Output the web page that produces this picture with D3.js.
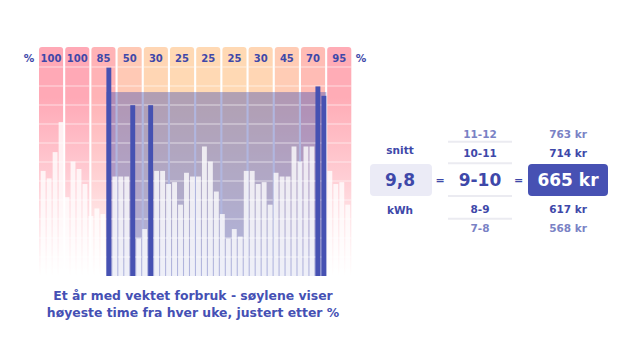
<!DOCTYPE html>
<html><head><meta charset="utf-8">
<script src="https://cdn.jsdelivr.net/npm/d3@7"></script>
<style>
html,body{margin:0;padding:0;background:#fff;}
svg{display:block;}
text{font-family:"DejaVu Sans",sans-serif;font-weight:bold;}
</style></head>
<body>
<svg id="chart" width="640" height="360"></svg>
<script>
// ---- data ----
const months = ["jan","feb","mar","apr","mai","jun","jul","aug","sep","okt","nov","des"];
const monthPct = [100,100,85,50,30,25,25,25,30,45,70,95];
const weeks = d3.range(1, 53);
const weeklyKwh = [5.6,5.2,6.6,8.2,4.2,6.1,5.7,4.9,3.2,3.6,3.3,11.1,5.3,5.3,5.3,9.1,2.0,2.5,9.1,5.6,
  5.6,4.9,5.0,3.8,5.5,5.3,5.3,6.9,6.1,4.5,3.3,2.0,2.5,2.1,5.6,5.6,4.9,5.0,3.8,5.5,
  5.3,5.3,6.9,6.1,6.9,6.9,10.1,9.6,5.6,4.9,5.0,3.8];
const topWeeks = [12,16,19,47,48];
const avgKwh = 9.8;
const avgLabel = "9,8";
const hourLabels = ["11-12","10-11","9-10","8-9","7-8"];
const prices = [763,714,665,617,568];
const titleLines = ["Et år med vektet forbruk - søylene viser","høyeste time fra hver uke, justert etter %"];

// ---- chart ----
const svg = d3.select("#chart");
const dark = "#3e48a9", light = "#7a82c5", blue = "#4651b2";

const y = d3.scaleLinear().domain([0, 12.2]).range([276, 47]);
const xm = d3.scaleBand().domain(months).range([39, 351.3]).paddingInner(0.08).paddingOuter(0);
const xw = d3.scaleBand().domain(weeks).range([40.7, 350.2]).paddingInner(0.18).paddingOuter(0);
const pctColor = d3.scaleLinear().domain([25, 100]).range(["#ffd9b4", "#ffa9b6"]);
const grid = d3.scaleLinear().domain([0, 11]).range([276, 67]);

const defs = svg.append("defs");
months.forEach((m, i) => {
  const c = pctColor(monthPct[i]);
  const g = defs.append("linearGradient").attr("id", "g" + i)
    .attr("gradientUnits", "userSpaceOnUse").attr("x1", 0).attr("x2", 0)
    .attr("y1", y(12.2)).attr("y2", y(0));
  g.append("stop").attr("offset", 0).attr("stop-color", c);
  g.append("stop").attr("offset", 0.22).attr("stop-color", c);
  g.append("stop").attr("offset", 0.6).attr("stop-color", d3.interpolateRgb(c, "#fff")(0.45));
  g.append("stop").attr("offset", 1).attr("stop-color", "#ffffff");
});

// month columns
svg.append("g").selectAll("rect").data(months).join("rect")
  .attr("x", d => xm(d)).attr("width", xm.bandwidth())
  .attr("y", y(12.2)).attr("height", y(0) - y(12.2))
  .attr("rx", 3).attr("fill", (d, i) => `url(#g${i})`);

// header labels
svg.append("g").selectAll("text").data(months).join("text")
  .attr("x", d => xm(d) + xm.bandwidth() / 2).attr("y", 61.5)
  .attr("text-anchor", "middle").attr("font-size", 10).attr("fill", dark)
  .text((d, i) => monthPct[i]);
svg.append("text").attr("x", 29).attr("y", 61.5).attr("text-anchor", "middle")
  .attr("font-size", 10.5).attr("fill", dark).text("%");
svg.append("text").attr("x", 361).attr("y", 61.5).attr("text-anchor", "middle")
  .attr("font-size", 10.5).attr("fill", dark).text("%");

// average overlay
const firstW = d3.min(topWeeks), lastW = d3.max(topWeeks);
svg.append("rect")
  .attr("x", xw(firstW)).attr("width", xw(lastW) + xw.bandwidth() - xw(firstW))
  .attr("y", y(avgKwh)).attr("height", y(0) - y(avgKwh))
  .attr("fill", blue).attr("fill-opacity", 0.42);

// grid lines inside columns
const gl = svg.append("g");
d3.range(1, 12).forEach(v => {
  gl.selectAll(null).data(months).join("line")
    .attr("x1", d => xm(d)).attr("x2", d => xm(d) + xm.bandwidth())
    .attr("y1", grid(v)).attr("y2", grid(v))
    .attr("stroke", "#fff").attr("stroke-opacity", 0.4).attr("stroke-width", 1.5);
});

// weekly bars
const data = weeks.map((w, i) => ({ w, v: weeklyKwh[i], top: topWeeks.includes(w) }));
svg.append("g").selectAll("rect").data(data.filter(d => !d.top)).join("rect")
  .attr("x", d => xw(d.w)).attr("width", xw.bandwidth())
  .attr("y", d => y(d.v)).attr("height", d => y(0) - y(d.v))
  .attr("fill", "#fff").attr("fill-opacity", 0.78);
svg.append("g").selectAll("rect").data(data.filter(d => d.top)).join("rect")
  .attr("x", d => xw(d.w)).attr("width", xw.bandwidth())
  .attr("y", d => y(d.v)).attr("height", d => y(0) - y(d.v))
  .attr("fill", blue);

// title
svg.append("g").selectAll("text").data(titleLines).join("text")
  .attr("x", 193).attr("y", (d, i) => 300 + i * 16.7)
  .attr("text-anchor", "middle").attr("font-size", 12.4).attr("fill", "#4550b4")
  .text(d => d);

// right panel
const rowY = [134, 153.3, 180, 209.3, 228.3];
const rowCol = [light, dark, dark, dark, light];
const p = svg.append("g");
p.append("text").attr("x", 400).attr("y", 150.7).attr("dy", "0.35em").attr("text-anchor", "middle")
  .attr("font-size", 10.5).attr("fill", dark).text("snitt");
p.append("text").attr("x", 400).attr("y", 210.7).attr("dy", "0.35em").attr("text-anchor", "middle")
  .attr("font-size", 10.5).attr("fill", dark).text("kWh");
p.append("rect").attr("x", 370).attr("y", 164).attr("width", 62).attr("height", 32).attr("rx", 4)
  .attr("fill", "#ebebf6");
p.append("text").attr("x", 400).attr("y", 180).attr("dy", "0.36em").attr("text-anchor", "middle")
  .attr("font-size", 17).attr("fill", dark).text(avgLabel);
[440, 518.7].forEach(x => p.append("text").attr("x", x).attr("y", 180).attr("dy", "0.36em")
  .attr("text-anchor", "middle").attr("font-size", 11).attr("fill", dark).text("="));
[141.7, 163.3, 196, 218.7].forEach(yy => p.append("line").attr("x1", 448).attr("x2", 512)
  .attr("y1", yy).attr("y2", yy).attr("stroke", "#ebebf1").attr("stroke-width", 2));
p.append("rect").attr("x", 528).attr("y", 164).attr("width", 80).attr("height", 32).attr("rx", 4)
  .attr("fill", "#4751b3");
p.selectAll(null).data(hourLabels).join("text")
  .attr("x", 480).attr("y", (d, i) => rowY[i]).attr("dy", "0.36em").attr("text-anchor", "middle")
  .attr("font-size", (d, i) => i === 2 ? 17 : 10.5).attr("fill", (d, i) => rowCol[i]).text(d => d);
p.selectAll(null).data(prices).join("text")
  .attr("x", 568).attr("y", (d, i) => rowY[i]).attr("dy", "0.36em").attr("text-anchor", "middle")
  .attr("font-size", (d, i) => i === 2 ? 17 : 10.5).attr("fill", (d, i) => i === 2 ? "#fff" : rowCol[i])
  .text(d => d + " kr");
</script>
</body></html>
